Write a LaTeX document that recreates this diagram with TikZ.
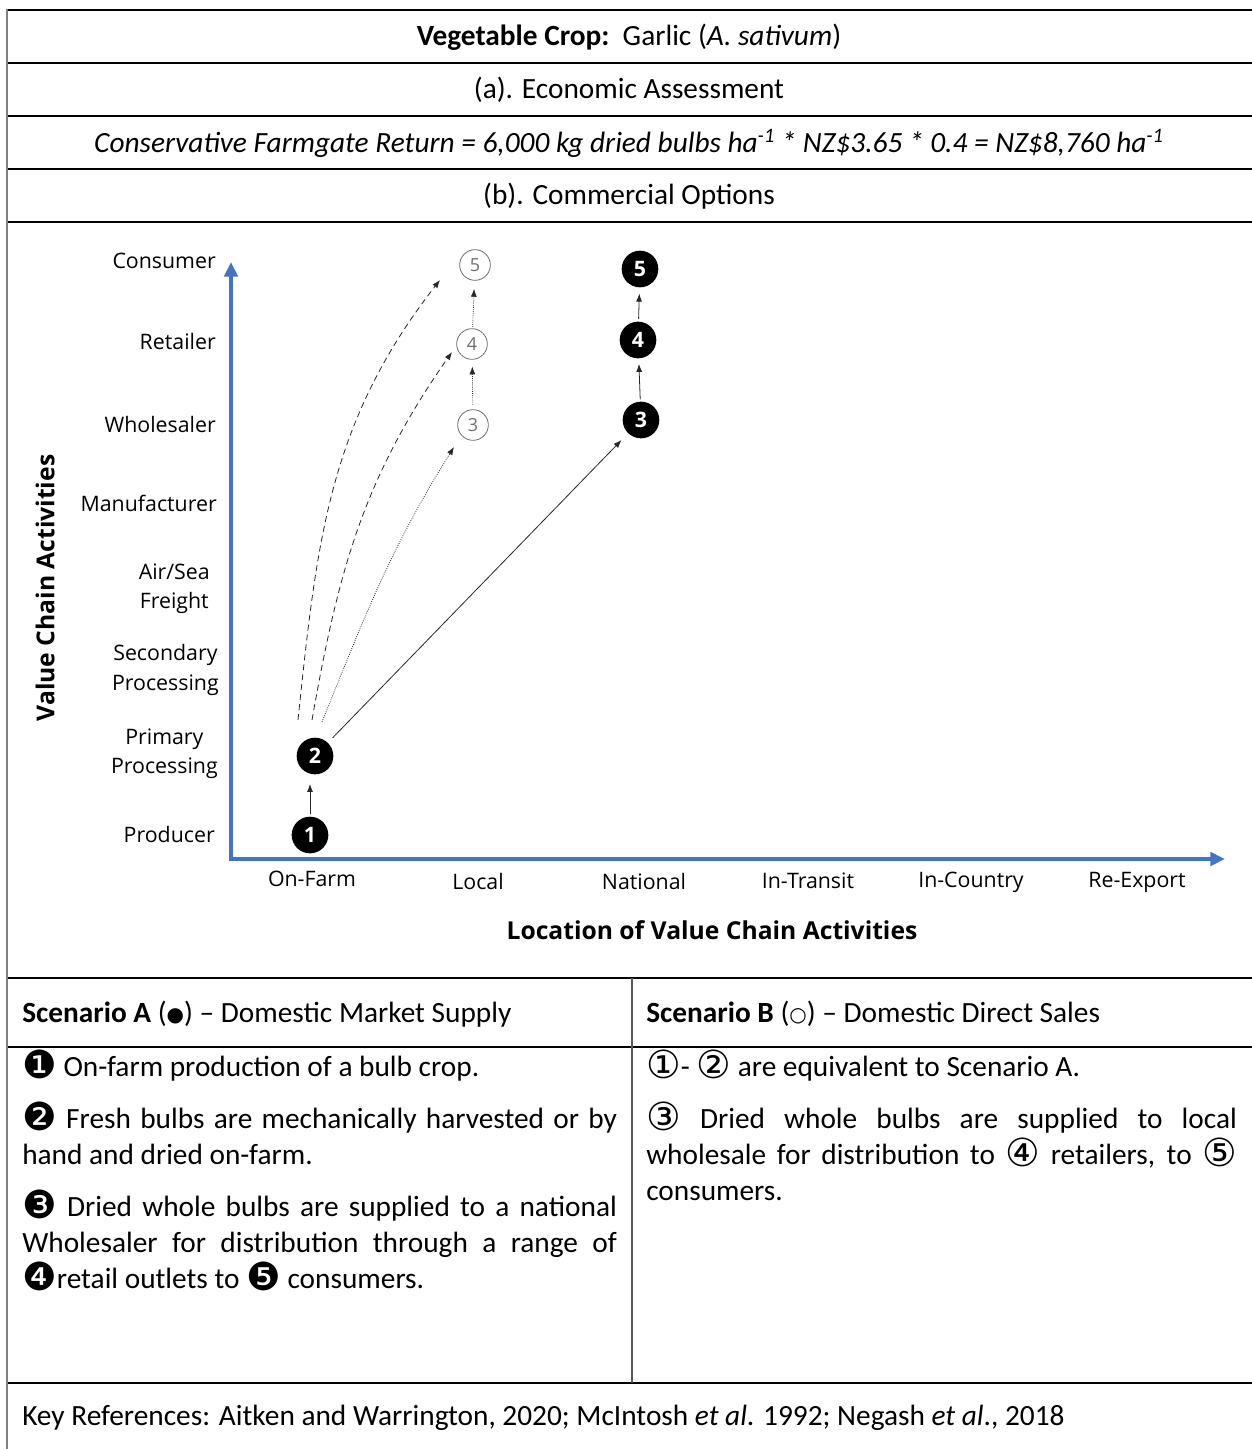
\documentclass[tikz,border=0pt]{standalone}
\usepackage{fontspec}
\setmainfont{Carlito}
\newfontfamily\chartfont{Open Sans}
\newfontfamily\symfont{DejaVu Sans}
\usetikzlibrary{arrows.meta}
\definecolor{axisblue}{HTML}{4472C4}
\definecolor{ogray}{HTML}{6E6E6E}
\newcommand{\cnum}[1]{\smash{\raisebox{-1.5pt}{\symfont\fontsize{29}{29}\selectfont #1}}}
\tikzset{
  tabtext/.style={font=\fontsize{22}{27}\selectfont, inner sep=0pt},
  ylab/.style={font=\chartfont\fontsize{16}{22}\selectfont, anchor=east, align=center, inner sep=0pt},
  xlab/.style={font=\chartfont\fontsize{16}{22}\selectfont, inner sep=0pt},
  axtitle/.style={font=\chartfont\bfseries\fontsize{18.5}{20}\selectfont, inner sep=0pt},
  fdot/.style={circle, fill=black, minimum size=27.5pt, inner sep=0pt, text=white, font=\chartfont\bfseries\fontsize{16}{16}\selectfont},
  odot/.style={circle, draw=ogray, line width=0.6pt, fill=white, minimum size=23pt, inner sep=0pt, text=ogray, font=\chartfont\fontsize{13.5}{13.5}\selectfont},
  arr/.style={-{Latex[length=6pt,width=4.5pt]}, line width=0.6pt, draw=black!85},
  rule/.style={line width=1.2pt},
  dashcurve/.style={dash pattern=on 4.5pt off 3pt},
}
\begin{document}
\begin{tikzpicture}[x=0.75pt,y=0.75pt]
\useasboundingbox (0,0) rectangle (1252,-1449);

% table rules
\foreach \yy in {10,63,116,169,222,978,1047,1383}
  \draw[rule] (7,-\yy) -- (1252,-\yy);
\draw[gray, line width=1.3pt] (7,-9) -- (7,-1449);
\draw[gray!70!black, line width=0.8pt] (632,-978) -- (632,-1383);

% header rows
\node[tabtext] (title) at (629,-37) {\textbf{Vegetable Crop:}\ \ Garlic (\textit{A. sativum})};
\node[tabtext] (econ) at (629,-90) {(a). Economic Assessment};
\node[tabtext] (formula) at (629,-143) {\textit{Conservative Farmgate Return = 6,000 kg dried bulbs ha\textsuperscript{-1} * NZ\$3.65 * 0.4 = NZ\$8,760 ha\textsuperscript{-1}}};
\node[tabtext] (comm) at (629,-196) {(b). Commercial Options};

% axes
\draw[axisblue, line width=3pt, {Triangle[length=11pt,width=10pt]}-{Triangle[length=11pt,width=10pt]}]
  (231,-262) -- (231,-859) -- (1225,-859);

% y labels
\node[ylab] (yCons) at (216,-261) {Consumer};
\node[ylab] (yRet) at (216,-341) {Retailer};
\node[ylab] (yWhole) at (216,-424) {Wholesaler};
\node[ylab] (yManu) at (217,-503) {Manufacturer};
\node[ylab] (yFreight) at (210,-589) {Air/Sea\\Freight};
\node[ylab] (ySec) at (219,-670) {Secondary\\Processing};
\node[ylab] (yPrim) at (218,-754) {Primary\\Processing};
\node[ylab] (yProd) at (215,-834) {Producer};

% x labels
\node[xlab] (xFarm) at (312,-879) {On-Farm};
\node[xlab] (xLocal) at (478,-881) {Local};
\node[xlab] (xNat) at (644,-881) {National};
\node[xlab] (xTransit) at (808,-881) {In-Transit};
\node[xlab] (xCountry) at (971,-882) {In-Country};
\node[xlab] (xRe) at (1137,-882) {Re-Export};

\node[axtitle] (xtitle) at (712,-930) {Location of Value Chain Activities};
\node[axtitle, rotate=90] (ytitle) at (45,-588) {Value Chain Activities};

% scenario nodes
\node[fdot] (a1) at (310,-835) {1};
\node[fdot] (a2) at (315,-756) {2};
\node[fdot] (a3) at (641,-420) {3};
\node[fdot] (a4) at (638,-340) {4};
\node[fdot] (a5) at (640,-269) {5};
\node[odot] (b3) at (473,-425) {3};
\node[odot] (b4) at (472,-344) {4};
\node[odot] (b5) at (475,-265) {5};

% connectors
\draw[arr, shorten <=1.5pt, shorten >=7pt] (a1.north) -- (a1 |- a2.south);
\draw[arr, shorten <=5pt, shorten >=7pt] (a2) -- (a3);
\draw[arr, shorten <=1.5pt, shorten >=4pt] (a3) -- (a4);
\draw[arr, shorten <=2pt, shorten >=4.5pt] (a4) -- (a5);
\draw[arr, densely dotted, shorten <=3.5pt, shorten >=5pt] (b3) -- (b4);
\draw[arr, densely dotted, shorten <=1pt, shorten >=6pt] (b4) -- (b5);
\draw[arr, dashcurve] ([shift={(-17,36)}]a2.center) to[out=84, in=232] ([shift={(-35,-15)}]b5.center);
\draw[arr, dashcurve] ([shift={(-3,36)}]a2.center) to[out=80, in=235] ([shift={(-20,-8)}]b4.center);
\draw[arr, densely dotted] ([shift={(7,34)}]a2.center) to[out=68, in=238] ([shift={(-19,-22)}]b3.center);

% scenario table
\node[tabtext, anchor=west] (hA) at (22,-1014) {\textbf{Scenario A} (\raisebox{1pt}{\symfont\fontsize{15}{15}\selectfont ●}) – Domestic Market Supply};
\node[tabtext, anchor=west] (hB) at (646,-1014) {\textbf{Scenario B} (\raisebox{1pt}{\symfont\fontsize{15}{15}\selectfont ○}) – Domestic Direct Sales};

\node[tabtext, anchor=north west, text width=446pt, align=justify] (bodyA) at (22,-1056)
 {\setlength{\parskip}{12pt}\tolerance=9999
  \cnum{❶} On-farm production of a bulb crop.\par
  \cnum{❷} Fresh bulbs are mechanically harvested or by\linebreak hand and dried on-farm.\par
  \cnum{❸} Dried whole bulbs are supplied to a national\linebreak Wholesaler for distribution through a range of\linebreak \cnum{❹}retail outlets to \cnum{❺} consumers.};

\node[tabtext, anchor=north west, text width=443pt, align=justify] (bodyB) at (646,-1056)
 {\setlength{\parskip}{12pt}\tolerance=9999
  \cnum{①}- \cnum{②} are equivalent to Scenario A.\par
  \cnum{③} Dried whole bulbs are supplied to local\linebreak wholesale for distribution to \cnum{④} retailers, to \cnum{⑤}\linebreak consumers.};

\node[tabtext, anchor=west] (refs) at (22,-1418) {Key References: Aitken and Warrington, 2020; McIntosh \textit{et al}. 1992; Negash \textit{et al}., 2018};
\end{tikzpicture}
\end{document}
